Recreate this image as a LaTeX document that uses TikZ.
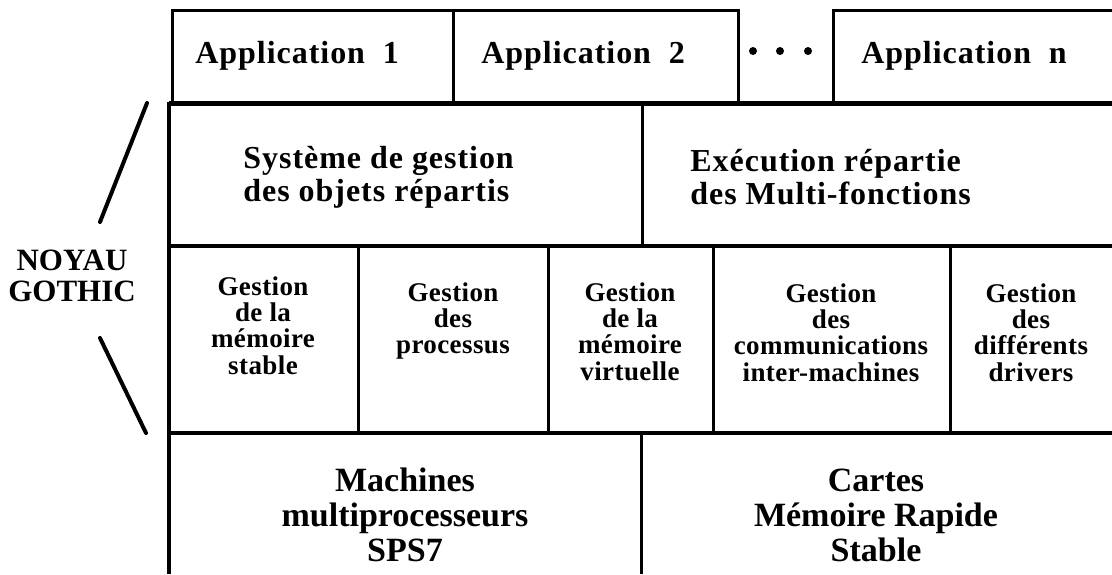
\documentclass[tikz,border=0pt]{standalone}
\usepackage{fontspec}
\setmainfont{Liberation Serif}
\newfontfamily\spacedfont[LetterSpace=3]{Liberation Serif}
\newfontfamily\cellfont[LetterSpace=1.5]{Liberation Serif}

\begin{document}
\begin{tikzpicture}[x=0.5pt,y=-0.5pt,
  appline/.style={line width=1.5pt},
  layerline/.style={line width=2pt},
  cellline/.style={line width=1.5pt},
  apptext/.style={anchor=base west,inner sep=0pt,font=\spacedfont\fontsize{16}{18}\selectfont\bfseries},
  systext/.style={anchor=west,align=left,inner sep=0pt,font=\spacedfont\fontsize{16}{16.5}\selectfont\bfseries},
  celltext/.style={anchor=north,align=center,inner sep=0pt,font=\cellfont\fontsize{13.5}{13.2}\selectfont\bfseries},
  hwtext/.style={align=center,inner sep=0pt,font=\fontsize{17}{17.5}\selectfont\bfseries}]
\useasboundingbox (0,0) rectangle (1112,574);

% applications
\draw [appline] (172,103) -- (172,10) -- (738,10) -- (738,103);
\draw [appline] (453,10) -- (453,103);
\draw [appline] (833,103) -- (833,10) -- (1112,10);
\node [apptext] (app1) at (195,63) {Application\ \ 1};
\node [apptext] (app2) at (481,63) {Application\ \ 2};
\node [apptext] (appn) at (861,63) {Application\ \ n};
\foreach \x in {753,780,808}
  \fill (\x,51) circle (2pt);

% couches
\draw [line width=2.5pt] (169,103) -- (1112,103);
\draw [layerline] (169,246) -- (1112,246);
\draw [layerline] (169,433) -- (1112,433);
\draw [line width=1.8pt] (169,102) -- (169,574);
\draw [cellline] (642,103) -- (642,246);
\foreach \x in {358,548,713,950}
  \draw [cellline] (\x,246) -- (\x,433);
\draw [cellline] (641,433) -- (641,574);

\node [systext] (objets) at (243,177) {Syst\`eme\ de\ gestion\\des\ objets\ r\'epartis};
\node [systext] (multi) at (690,177) {Ex\'ecution\ r\'epartie\\des\ Multi-fonctions};

\node [celltext] (stable) at (263,276) {Gestion\\de la\\m\'emoire\\stable};
\node [celltext] (proc) at (453,282) {Gestion\\des\\processus};
\node [celltext] (virt) at (630,282) {Gestion\\de la\\m\'emoire\\virtuelle};
\node [celltext] (comm) at (831,283) {Gestion\\des\\communications\\inter-machines};
\node [celltext] (drivers) at (1031,283) {Gestion\\des\\diff\'erents\\drivers};

\node [hwtext] (sps) at (405,515) {Machines\\multiprocesseurs\\SPS7};
\node [hwtext] (cartes) at (876,515) {Cartes\\M\'emoire Rapide\\Stable};

% noyau
\node [align=center,inner sep=0pt,font=\fontsize{15.5}{15.5}\selectfont\bfseries] (noyau) at (72,276) {NOYAU\\GOTHIC};
\draw [line width=2pt,line cap=round] (147,103) -- (100,222);
\draw [line width=2pt,line cap=round] (100,338) -- (146,433);
\end{tikzpicture}
\end{document}
